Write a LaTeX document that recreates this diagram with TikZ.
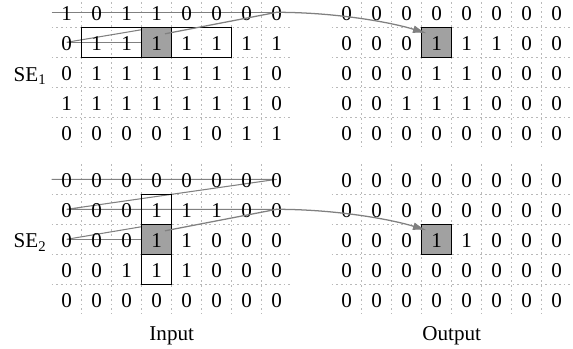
\documentclass[tikz,border=0pt]{standalone}
\usepackage{fontspec}
\setmainfont{Liberation Serif}
\usetikzlibrary{arrows.meta,calc}
\newcommand\mydigitrow[3]{%
  \foreach \v [count=\c from 0] in {#3} {\node[digit] (d#1#2-\c) at ($(#1#2-\c)+(0,8.4)$) {\v};}%
}
\begin{document}
\begin{tikzpicture}[x=0.016667cm,y=-0.016667cm,
  gridline/.style={gray!55, line width=0.5pt, dash pattern=on 0.8pt off 1.4pt},
  scanline/.style={gray, line width=0.5pt},
  digit/.style={anchor=base, inner sep=0pt, font=\fontsize{10}{12}\selectfont},
  graycell/.style={draw=black, fill=black!37, line width=0.6pt, minimum size=0.5cm, inner sep=0pt, outer sep=0pt},
  sebox/.style={draw=black, line width=0.6pt},
  caption/.style={anchor=base, inner sep=0pt, font=\fontsize{10}{12}\selectfont},
  selabel/.style={anchor=base west, inner sep=0pt, font=\fontsize{10}{12}\selectfont},
  flow/.style={gray, line width=0.6pt, -{Latex[length=2.3mm, width=1.3mm]}}
]
\useasboundingbox (0,0) rectangle (573,349);

% cell centre coordinates
\foreach \g/\gx/\gy in {A/66.7/12.3, B/346.7/12.3, C/66.7/179.3, D/346.7/179.3}{
  \foreach \r in {0,...,4}{
    \foreach \c in {0,...,7}{
      \coordinate (\g\r-\c) at ({\gx+30*\c},{\gy+30*\r});
    }
  }
}

% dotted grids
\foreach \gx/\gy in {66.7/12.3, 346.7/12.3, 66.7/179.3, 346.7/179.3}{
  \foreach \k in {1,...,4}
    \draw[gridline] ({\gx-15},{\gy-15+30*\k}) -- ({\gx+225},{\gy-15+30*\k});
  \foreach \k in {1,...,7}
    \draw[gridline] ({\gx-15+30*\k},{\gy-15}) -- ({\gx-15+30*\k},{\gy+135});
}

% scan lines SE1
\draw[scanline] ($(A0-0)+(-15,0)$) -- (A0-7);
\draw[scanline] (A1-0) -- ($(A1-3)+(-6.7,-14)$);
\draw[scanline] (A1-0) -- (A1-3);
% scan lines SE2
\draw[scanline] ($(C0-0)+(-15,0)$) -- (C0-7) -- (C1-0) -- (C1-7);
\draw[scanline] (C2-0) -- ($(C2-3)+(-6.7,-14)$);
\draw[scanline] (C2-0) -- (C2-3);

% structuring element boxes
\draw[sebox] ($(A1-1)+(-15,-15)$) rectangle ($(A1-5)+(15,15)$);
\draw[sebox] ($(C1-3)+(-15,-15)$) rectangle ($(C3-3)+(15,15)$);

% grey cells
\node[graycell] (inA) at (A1-3) {};
\node[graycell] (outB) at (B1-3) {};
\node[graycell] (inC) at (C2-3) {};
\node[graycell] (outD) at (D2-3) {};

% digits
\mydigitrow{A}{0}{1,0,1,1,0,0,0,0}
\mydigitrow{A}{1}{0,1,1,1,1,1,1,1}
\mydigitrow{A}{2}{0,1,1,1,1,1,1,0}
\mydigitrow{A}{3}{1,1,1,1,1,1,1,0}
\mydigitrow{A}{4}{0,0,0,0,1,0,1,1}

\mydigitrow{B}{0}{0,0,0,0,0,0,0,0}
\mydigitrow{B}{1}{0,0,0,1,1,1,0,0}
\mydigitrow{B}{2}{0,0,0,1,1,0,0,0}
\mydigitrow{B}{3}{0,0,1,1,1,0,0,0}
\mydigitrow{B}{4}{0,0,0,0,0,0,0,0}

\mydigitrow{C}{0}{0,0,0,0,0,0,0,0}
\mydigitrow{C}{1}{0,0,0,1,1,1,0,0}
\mydigitrow{C}{2}{0,0,0,1,1,0,0,0}
\mydigitrow{C}{3}{0,0,1,1,1,0,0,0}
\mydigitrow{C}{4}{0,0,0,0,0,0,0,0}

\mydigitrow{D}{0}{0,0,0,0,0,0,0,0}
\mydigitrow{D}{1}{0,0,0,0,0,0,0,0}
\mydigitrow{D}{2}{0,0,0,1,1,0,0,0}
\mydigitrow{D}{3}{0,0,0,0,0,0,0,0}
\mydigitrow{D}{4}{0,0,0,0,0,0,0,0}

% arrows
\coordinate (sA) at ($(A1-3)+(8.3,-8.5)$);
\coordinate (tB) at ($(B1-3)+(-10,-9)$);
\draw[flow] (sA) -- (A0-7) .. controls +(58,0) and +(-36.7,-11.3) .. (tB);
\coordinate (sC) at ($(C2-3)+(8.3,-8.5)$);
\coordinate (tD) at ($(D2-3)+(-10,-9)$);
\draw[flow] (sC) -- (C1-7) .. controls +(58,0) and +(-36.7,-11.3) .. (tD);

% labels
\node[selabel] (se1) at (13.3,81) {SE\raisebox{-1.6pt}{\fontsize{7}{8}\selectfont 1}};
\node[selabel] (se2) at (13.3,247.7) {SE\raisebox{-1.6pt}{\fontsize{7}{8}\selectfont 2}};
\node[caption] (inlbl) at (171.7,340) {Input};
\node[caption] (outlbl) at (451.7,340) {Output};
\end{tikzpicture}
\end{document}
